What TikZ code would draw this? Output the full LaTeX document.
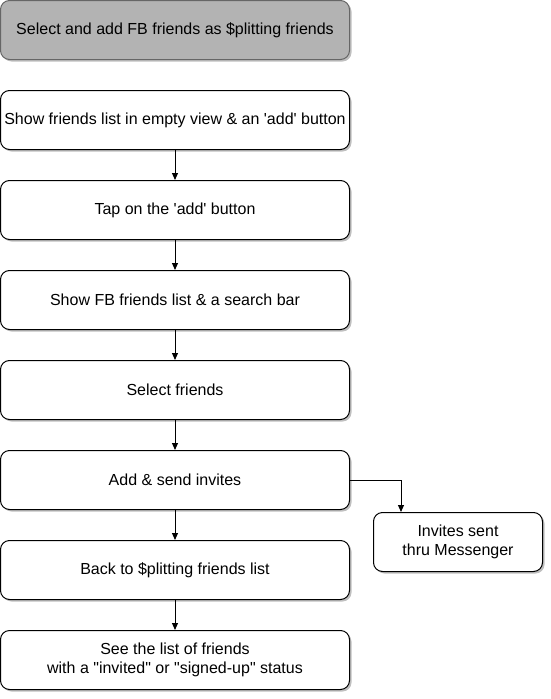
\documentclass[tikz,border=0pt]{standalone}
\usepackage{fontspec}
\setmainfont{Liberation Sans}
\usetikzlibrary{shadows,arrows.meta}
\definecolor{boxgray}{HTML}{B3B3B3}
\newcommand{\sq}{\textquotesingle}
\newcommand{\dq}{\textquotedbl}
\tikzset{
  stepbox/.style={draw=black, line width=1pt, rounded corners=9pt, fill=white,
    minimum width=349pt, minimum height=59pt, align=center, inner sep=2pt,
    font=\fontsize{16}{19.5}\selectfont,
    drop shadow={shadow xshift=2pt, shadow yshift=-2pt, opacity=0.25, fill=black}},
  headbox/.style={stepbox, fill=boxgray, draw=black!60},
  arr/.style={draw=black, line width=1pt, -{Triangle[length=7pt,width=6pt]}}
}
\begin{document}
\begin{tikzpicture}[x=1pt,y=-1pt]
\useasboundingbox (0,0) rectangle (550,699);
\node[headbox] (h) at (175,30) {Select and add FB friends as \$plitting friends};
\node[stepbox] (a) at (175,120) {Show friends list in empty view \& an \sq add\sq\ button};
\node[stepbox] (b) at (175,210) {Tap on the \sq add\sq\ button};
\node[stepbox] (c) at (175,300) {Show FB friends list \& a search bar};
\node[stepbox] (d) at (175,390) {Select friends};
\node[stepbox] (e) at (175,480) {Add \& send invites};
\node[stepbox] (f) at (175,570) {Back to \$plitting friends list};
\node[stepbox] (g) at (175,660) {See the list of friends\\with a \dq invited\dq\ or \dq signed-up\dq\ status};
\node[stepbox, minimum width=169pt] (s) at (458,542) {Invites sent\\thru Messenger};
\draw[arr] (a) -- (b);
\draw[arr] (b) -- (c);
\draw[arr] (c) -- (d);
\draw[arr] (d) -- (e);
\draw[arr] (e) -- (f);
\draw[arr] (f) -- (g);
\coordinate (k) at (401,480);
\draw[arr] (e.east) -- (k) -- (k |- s.north);
\end{tikzpicture}
\end{document}
